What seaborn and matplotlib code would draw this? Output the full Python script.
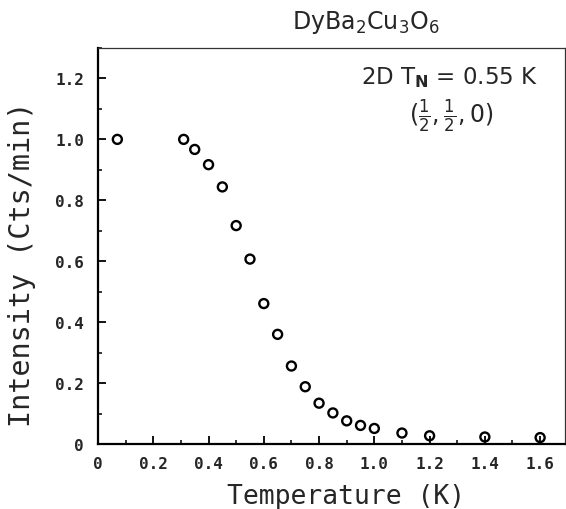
import matplotlib
matplotlib.use("Agg")
import matplotlib.pyplot as plt
from matplotlib.ticker import MultipleLocator, FixedFormatter, FixedLocator
import seaborn as sns
import pandas as pd

# Neutron-scattering intensity of the (1/2,1/2,0) peak versus temperature
temperature = [0.07, 0.31, 0.35, 0.40, 0.45, 0.50, 0.55, 0.60, 0.65, 0.70,
               0.75, 0.80, 0.85, 0.90, 0.95, 1.00, 1.10, 1.20, 1.40, 1.60]
intensity = [1.00, 1.00, 0.967, 0.917, 0.844, 0.717, 0.607, 0.461, 0.360, 0.256,
             0.188, 0.134, 0.102, 0.076, 0.061, 0.051, 0.036, 0.027, 0.023, 0.021]

x_ticks = [0, 0.2, 0.4, 0.6, 0.8, 1.0, 1.2, 1.4, 1.6]
x_tick_labels = ["0", "0.2", "0.4", "0.6", "0.8", "1.0", "1.2", "1.4", "1.6"]
y_ticks = [0, 0.2, 0.4, 0.6, 0.8, 1.0, 1.2]
y_tick_labels = ["0", "0.2", "0.4", "0.6", "0.8", "1.0", "1.2"]

df = pd.DataFrame({"T": temperature, "I": intensity})

sns.set_style("white")
plt.rcParams["font.family"] = ["DejaVu Sans"]
plt.rcParams["mathtext.fontset"] = "dejavusans"
plt.rcParams["mathtext.default"] = "regular"

fig = plt.figure(figsize=(5.66, 5.10), dpi=100)
ax = fig.add_axes([98 / 566, 65 / 510, 467 / 566, 396 / 510])

sns.scatterplot(data=df, x="T", y="I", ax=ax, marker="o", s=42,
                facecolor="none", edgecolor="black", linewidth=1.7,
                legend=False, zorder=3)

ax.set_xlim(0, 1.69)
ax.set_ylim(0, 1.3)

ax.xaxis.set_major_locator(FixedLocator(x_ticks))
ax.xaxis.set_major_formatter(FixedFormatter(x_tick_labels))
ax.yaxis.set_major_locator(FixedLocator(y_ticks))
ax.yaxis.set_major_formatter(FixedFormatter(y_tick_labels))
ax.xaxis.set_minor_locator(MultipleLocator(0.1))
ax.yaxis.set_minor_locator(MultipleLocator(0.1))

ax.tick_params(which="both", direction="in", top=False, right=False,
               bottom=True, left=True, color="black")
ax.tick_params(which="major", length=6, width=1.3)
ax.tick_params(axis="x", which="major", pad=9)
ax.tick_params(axis="y", which="major", pad=10)
ax.tick_params(which="minor", length=3, width=1.1)
for lab in ax.get_xticklabels() + ax.get_yticklabels():
    lab.set_fontfamily("DejaVu Sans Mono")
    lab.set_fontweight("bold")
    lab.set_fontsize(11.5)

for side in ["left", "bottom"]:
    ax.spines[side].set_linewidth(1.6)
    ax.spines[side].set_color("black")
for side in ["top", "right"]:
    ax.spines[side].set_linewidth(0.9)
    ax.spines[side].set_color("#333333")

ax.set_xlabel("Temperature (K)", fontfamily="DejaVu Sans Mono", fontsize=19)
ax.xaxis.set_label_coords(0.531, -0.098)
ax.set_ylabel("Intensity (Cts/min)", fontfamily="DejaVu Sans Mono", fontsize=20.5)
ax.yaxis.set_label_coords(-0.133, 0.457)

fig.text(366 / 566, 1 - 22 / 510, r"DyBa$_2$Cu$_3$O$_6$", ha="center",
         va="center", fontsize=17)

ax.text(0.942, 0.929, r"2D T$_{\mathbf{N}}$ = 0.55 K", transform=ax.transAxes,
        ha="right", va="center", fontsize=16.5)
ax.text(0.756, 0.831, r"$(\frac{1}{2},\frac{1}{2},0)$", transform=ax.transAxes,
        ha="center", va="center", fontsize=17)

fig.savefig("out.png", dpi=100)
